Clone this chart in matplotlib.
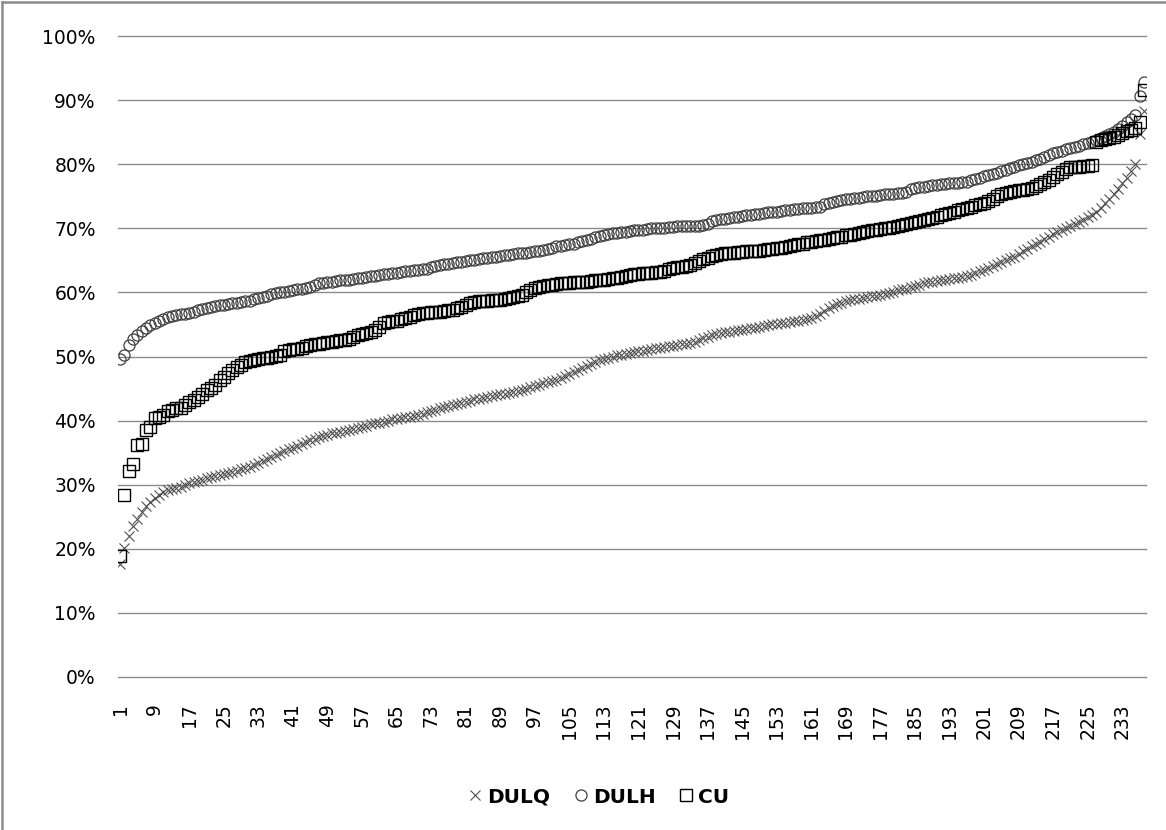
import matplotlib
matplotlib.use("Agg")
import matplotlib.pyplot as plt
from matplotlib.lines import Line2D
from matplotlib.ticker import FuncFormatter

series_names = ["DULQ", "DULH", "CU"]

dulq = [
    17.6, 20.1, 22.0, 23.5, 24.7, 25.7, 26.6, 27.3, 27.9, 28.4,
    28.8, 29.1, 29.3, 29.5, 29.7, 29.9, 30.2, 30.4, 30.6, 30.8,
    31.0, 31.2, 31.4, 31.5, 31.7, 31.9, 32.0, 32.2, 32.4, 32.6,
    32.8, 33.1, 33.4, 33.7, 34.0, 34.3, 34.6, 34.9, 35.2, 35.5,
    35.8, 36.1, 36.4, 36.7, 37.0, 37.2, 37.4, 37.6, 37.8, 38.0,
    38.1, 38.2, 38.4, 38.5, 38.7, 38.8, 39.0, 39.2, 39.4, 39.6,
    39.7, 39.8, 40.0, 40.2, 40.3, 40.4, 40.5, 40.6, 40.7, 40.9,
    41.1, 41.3, 41.5, 41.7, 41.9, 42.1, 42.3, 42.5, 42.6, 42.7,
    42.9, 43.1, 43.3, 43.4, 43.6, 43.7, 43.9, 44.0, 44.1, 44.2,
    44.3, 44.4, 44.6, 44.8, 45.0, 45.2, 45.4, 45.6, 45.8, 46.0,
    46.2, 46.4, 46.7, 47.0, 47.3, 47.6, 47.9, 48.2, 48.5, 48.8,
    49.1, 49.4, 49.6, 49.8, 50.0, 50.2, 50.3, 50.4, 50.5, 50.7,
    50.8, 50.9, 51.0, 51.1, 51.3, 51.4, 51.5, 51.6, 51.7, 51.8,
    51.9, 52.0, 52.1, 52.3, 52.6, 52.9, 53.1, 53.3, 53.5, 53.7,
    53.8, 53.9, 54.0, 54.1, 54.2, 54.3, 54.4, 54.5, 54.6, 54.8,
    54.9, 55.0, 55.1, 55.2, 55.3, 55.4, 55.5, 55.6, 55.7, 55.8,
    56.0, 56.3, 56.7, 57.1, 57.5, 57.9, 58.2, 58.4, 58.6, 58.8,
    58.9, 59.0, 59.1, 59.3, 59.4, 59.5, 59.6, 59.7, 59.9, 60.1,
    60.3, 60.5, 60.6, 60.8, 61.0, 61.2, 61.4, 61.6, 61.7, 61.8,
    61.9, 62.0, 62.1, 62.2, 62.3, 62.4, 62.5, 62.7, 63.0, 63.3,
    63.5, 63.8, 64.1, 64.4, 64.7, 65.0, 65.3, 65.6, 66.0, 66.4,
    66.8, 67.2, 67.6, 67.9, 68.3, 68.7, 69.1, 69.5, 69.8, 70.1,
    70.4, 70.7, 71.0, 71.3, 71.7, 72.1, 72.6, 73.2, 73.9, 74.6,
    75.4, 76.2, 77.0, 77.9, 78.9, 80.1, 84.7, 88.3,
]

dulh = [
    49.6, 50.2, 51.8, 52.7, 53.4, 54.0, 54.5, 54.9, 55.3, 55.6,
    55.9, 56.1, 56.3, 56.4, 56.6, 56.7, 56.8, 57.0, 57.2, 57.4,
    57.6, 57.8, 57.9, 58.0, 58.1, 58.2, 58.3, 58.4, 58.5, 58.6,
    58.7, 58.9, 59.1, 59.3, 59.5, 59.7, 59.9, 60.0, 60.1, 60.2,
    60.4, 60.5, 60.6, 60.7, 60.8, 61.2, 61.4, 61.5, 61.6, 61.7,
    61.8, 61.9, 62.0, 62.0, 62.1, 62.2, 62.3, 62.4, 62.5, 62.6,
    62.7, 62.8, 62.9, 63.0, 63.1, 63.2, 63.3, 63.4, 63.5, 63.5,
    63.6, 63.7, 63.9, 64.1, 64.3, 64.4, 64.5, 64.6, 64.7, 64.8,
    64.9, 65.0, 65.1, 65.2, 65.3, 65.4, 65.5, 65.6, 65.7, 65.8,
    65.9, 66.0, 66.1, 66.2, 66.2, 66.3, 66.4, 66.5, 66.6, 66.7,
    67.0, 67.2, 67.3, 67.4, 67.5, 67.6, 67.8, 68.0, 68.2, 68.4,
    68.6, 68.8, 69.0, 69.1, 69.2, 69.3, 69.4, 69.5, 69.6, 69.7,
    69.8, 69.8, 69.9, 70.0, 70.0, 70.1, 70.1, 70.2, 70.2, 70.3,
    70.3, 70.3, 70.4, 70.4, 70.4, 70.5, 70.6, 71.1, 71.3, 71.4,
    71.5, 71.6, 71.7, 71.8, 71.9, 72.0, 72.1, 72.2, 72.3, 72.4,
    72.5, 72.6, 72.6, 72.7, 72.8, 72.9, 73.0, 73.0, 73.1, 73.2,
    73.2, 73.3, 73.4, 73.8, 74.0, 74.1, 74.3, 74.4, 74.5, 74.6,
    74.7, 74.8, 74.9, 75.0, 75.0, 75.1, 75.2, 75.3, 75.3, 75.4,
    75.5, 75.5, 75.6, 76.1, 76.3, 76.4, 76.5, 76.6, 76.7, 76.8,
    76.9, 76.9, 77.0, 77.1, 77.1, 77.2, 77.3, 77.5, 77.7, 77.9,
    78.1, 78.3, 78.5, 78.7, 78.9, 79.1, 79.4, 79.6, 79.8, 80.0,
    80.2, 80.4, 80.6, 80.8, 81.1, 81.4, 81.7, 81.9, 82.1, 82.3,
    82.5, 82.7, 82.9, 83.1, 83.3, 83.5, 83.8, 84.1, 84.4, 84.7,
    85.1, 85.5, 86.0, 86.6, 87.1, 87.7, 90.7, 92.8,
]

cu = [
    18.9, 28.4, 32.1, 33.2, 36.2, 36.3, 38.5, 39.0, 40.4, 40.5,
    40.9, 41.5, 41.6, 41.9, 42.0, 42.4, 42.9, 43.2, 43.7, 44.2,
    44.7, 45.1, 45.6, 46.3, 46.8, 47.4, 47.9, 48.3, 48.7, 49.1,
    49.3, 49.5, 49.6, 49.7, 49.8, 49.9, 50.1, 50.3, 50.8, 51.0,
    51.1, 51.2, 51.4, 51.6, 51.8, 51.9, 52.0, 52.1, 52.2, 52.3,
    52.4, 52.5, 52.6, 52.8, 53.0, 53.3, 53.5, 53.7, 53.9, 54.1,
    54.6, 55.2, 55.4, 55.5, 55.6, 55.8, 56.0, 56.2, 56.4, 56.6,
    56.8, 56.8, 56.9, 56.9, 57.0, 57.1, 57.2, 57.3, 57.5, 57.7,
    58.0, 58.3, 58.5, 58.6, 58.7, 58.7, 58.8, 58.8, 58.8, 58.9,
    59.1, 59.3, 59.5, 59.6, 60.0, 60.3, 60.7, 60.9, 61.0, 61.1,
    61.2, 61.3, 61.4, 61.5, 61.5, 61.6, 61.6, 61.7, 61.7, 61.8,
    61.9, 62.0, 62.0, 62.1, 62.2, 62.3, 62.4, 62.6, 62.7, 62.8,
    62.9, 63.0, 63.0, 63.1, 63.2, 63.2, 63.4, 63.6, 63.8, 63.9,
    64.0, 64.1, 64.3, 64.6, 64.9, 65.2, 65.4, 65.7, 65.9, 66.0,
    66.1, 66.2, 66.2, 66.3, 66.3, 66.4, 66.4, 66.5, 66.5, 66.6,
    66.7, 66.8, 66.9, 67.0, 67.1, 67.2, 67.4, 67.5, 67.6, 67.8,
    67.9, 68.0, 68.1, 68.2, 68.4, 68.5, 68.6, 68.7, 68.9, 69.0,
    69.1, 69.3, 69.4, 69.6, 69.7, 69.8, 69.9, 70.0, 70.1, 70.2,
    70.3, 70.5, 70.7, 70.9, 71.0, 71.1, 71.3, 71.5, 71.6, 71.8,
    72.0, 72.2, 72.4, 72.6, 72.8, 73.0, 73.2, 73.4, 73.6, 73.8,
    74.0, 74.3, 74.6, 75.1, 75.3, 75.5, 75.7, 75.8, 75.9, 76.0,
    76.1, 76.3, 76.6, 76.9, 77.2, 77.5, 78.0, 78.4, 78.8, 79.2,
    79.5, 79.6, 79.6, 79.7, 79.7, 79.8, 83.5, 83.7, 83.9, 84.1,
    84.3, 84.6, 84.9, 85.2, 85.4, 85.7, 86.6, 91.6,
]

categories = list(range(1, len(dulq) + 1))
tick_labels = [str(c) for c in categories[::8]]
y_ticks = [0, 10, 20, 30, 40, 50, 60, 70, 80, 90, 100]

fig = plt.figure(figsize=(11.66, 8.30), dpi=100)
# chart-area border (visible on left and top in the reference)
fig.add_artist(Line2D([0.002, 0.002], [0.0, 0.997], transform=fig.transFigure,
                      color="#8c8c8c", linewidth=1.8))
fig.add_artist(Line2D([0.002, 1.0], [0.997, 0.997], transform=fig.transFigure,
                      color="#8c8c8c", linewidth=1.8))

ax = fig.add_axes([118 / 1166, 1 - 677 / 830, (1146 - 118) / 1166, (677 - 36) / 830])

ax.plot(categories, dulq, linestyle="none", marker="x", markersize=7.5,
        markeredgewidth=0.8, color="#505050", label=series_names[0], zorder=3)
ax.plot(categories, dulh, linestyle="none", marker="o", markersize=8,
        markeredgewidth=0.9, markerfacecolor="none", markeredgecolor="#404040",
        label=series_names[1], zorder=4)
ax.plot(categories, cu, linestyle="none", marker="s", markersize=8,
        markeredgewidth=1.0, markerfacecolor="none", markeredgecolor="#000000",
        label=series_names[2], zorder=5)

ax.set_xlim(0.5, len(categories) + 0.5)
ax.set_ylim(0, 100)
ax.set_yticks(y_ticks)
ax.yaxis.set_major_formatter(FuncFormatter(lambda v, p: f"{int(v)}%"))
ax.set_xticks(categories[::8])
ax.set_xticklabels(tick_labels, rotation=90)
ax.grid(axis="y", color="#8c8c8c", linewidth=1.0)
for gl in ax.get_ygridlines():
    gl.set_clip_on(False)
ax.set_axisbelow(True)
for s in ax.spines.values():
    s.set_visible(False)
ax.tick_params(axis="both", length=0, labelsize=13.5, colors="#000000")
ax.tick_params(axis="y", pad=16)
ax.tick_params(axis="x", pad=19)

leg = fig.legend(loc="center", bbox_to_anchor=(597 / 1166, 1 - 797 / 830), ncol=3,
                 frameon=False, handletextpad=0.1, columnspacing=1.0,
                 handlelength=1.0, prop={"weight": "bold", "size": 14.5})

fig.savefig("out.png", dpi=100)
